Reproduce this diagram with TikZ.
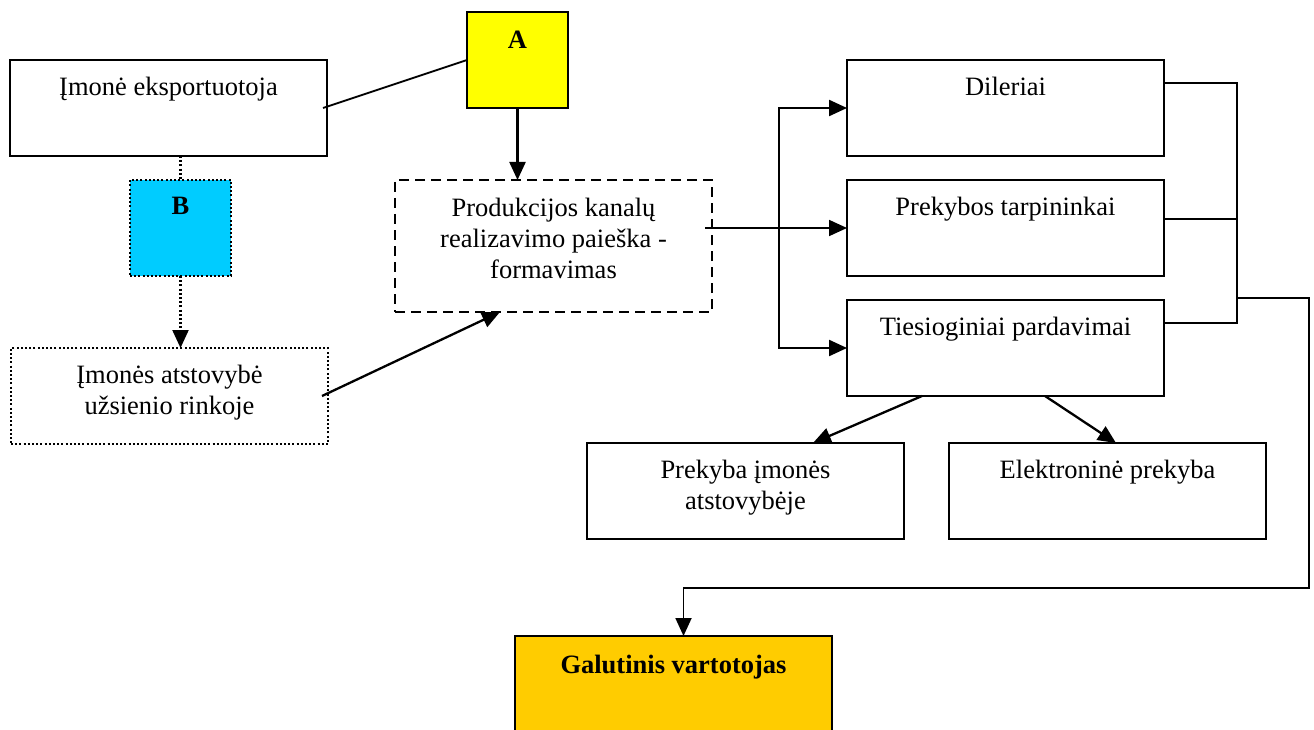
\documentclass[tikz,border=0pt]{standalone}
\usepackage{fontspec}
\setmainfont{Liberation Serif}
\usetikzlibrary{arrows.meta}
\definecolor{boxyellow}{HTML}{FFFF00}
\definecolor{boxcyan}{HTML}{00CCFF}
\definecolor{boxgold}{HTML}{FFCC00}
\begin{document}
\begin{tikzpicture}[x=1pt,y=-1pt,
  box/.style={draw, line width=1.9pt, anchor=north west, minimum width=317pt,
              minimum height=96pt, inner sep=0pt, outer sep=0pt},
  sq/.style={box, minimum width=101pt},
  lbl/.style={font=\fontsize{26.5}{31}\selectfont, align=center, inner sep=0pt, anchor=north},
  bold/.style={font=\fontsize{26.5}{31}\selectfont\bfseries},
  tip/.style={-{Triangle[length=18pt,width=16pt]}},
  arr/.style={tip, line width=2.3pt},
  link/.style={line width=1.8pt},
  dotline/.style={line width=2.2pt, dash pattern=on 2pt off 2.2pt}
]
\clip (0,0) rectangle (1314,730);

% left column
\node[box, label={[lbl,yshift=-17pt]north:Įmonė eksportuotoja}] (exp) at (10,60) {};
\node[sq, fill=boxyellow, label={[lbl,bold,yshift=-19pt]north:A}] (A) at (467,12) {};
\node[sq, fill=boxcyan, dotline, label={[lbl,bold,yshift=-17pt]north:B}] (B) at (130,180) {};
\node[box, dotline, label={[lbl,yshift=-17pt]north:Įmonės atstovybė\\užsienio rinkoje}] (rep) at (11,348) {};
\node[box, minimum height=132pt, dash pattern=on 10pt off 6pt,
      label={[lbl,yshift=-18pt]north:Produkcijos kanalų\\realizavimo paieška -\\formavimas}] (prod) at (395,180) {};

% distribution channels
\node[box, label={[lbl,yshift=-17pt]north:Dileriai}] (dil) at (847,60) {};
\node[box, label={[lbl,yshift=-17pt]north:Prekybos tarpininkai}] (prek) at (847,180) {};
\node[box, label={[lbl,yshift=-17pt]north:Tiesioginiai pardavimai}] (tie) at (847,300) {};
\node[box, label={[lbl,yshift=-17pt]north:Prekyba įmonės\\atstovybėje}] (imon) at (587,443) {};
\node[box, label={[lbl,yshift=-17pt]north:Elektroninė prekyba}] (elek) at (949,443) {};
\node[box, fill=boxgold, minimum height=130pt,
      label={[lbl,bold,yshift=-19pt]north:Galutinis vartotojas}] (gal) at (515,636) {};

% connectors on the left
\draw[link] ([xshift=-4pt]exp.east) -- (A.west);
\draw[arr] (A.south) -- (A.south |- prod.north);
\draw[dotline] (B.north |- exp.south) -- (B.north);
\draw[dotline, tip] (B.south) -- (B.south |- rep.north);
\draw[arr] ([xshift=-6pt]rep.east) -- ([xshift=105pt]prod.south west);

% fan-out to the channels
\coordinate (bx) at (779,0);
\draw[arr, line width=1.8pt] ([xshift=-7pt]prod.east |- prek.west) -- (prek.west);
\draw[line width=2.3pt, {Triangle[length=18pt,width=16pt]}-{Triangle[length=18pt,width=16pt]}]
  (dil.west) -- (bx |- dil.west) -- (bx |- tie.west) -- (tie.west);
\draw[arr] ([xshift=75pt]tie.south west) -- ([xshift=226pt]imon.north west);
\draw[arr] ([xshift=198pt]tie.south west) -- ([xshift=167pt]elek.north west);

% collecting line to the end user
\coordinate (rx) at (1237,0);
\coordinate (d1) at ([yshift=25pt]dil.east);
\coordinate (p1) at ([yshift=9pt]prek.east);
\coordinate (t1) at ([yshift=25pt]tie.east);
\coordinate (m1) at (1237,298);
\coordinate (c1) at (1309,588);
\draw[link] (d1) -- (rx |- d1) -- (rx |- t1) -- (t1);
\draw[link] (p1) -- (rx |- p1);
\draw[link, tip] (m1) -| (c1) -| ([xshift=10pt]gal.north);
\end{tikzpicture}
\end{document}
